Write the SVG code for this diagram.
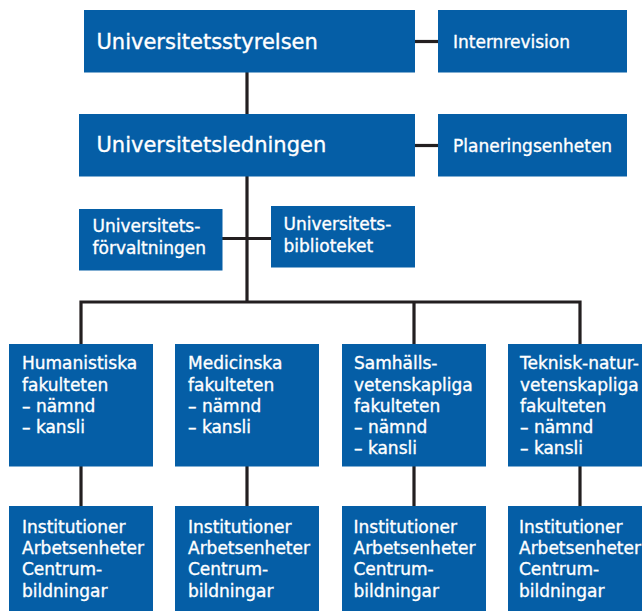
<svg xmlns="http://www.w3.org/2000/svg" width="642" height="611" viewBox="0 0 642 611">
<style>
.box{fill:#055ea6}
.t{font-family:"DejaVu Sans","Liberation Sans",sans-serif;font-size:17px;fill:#ffffff;stroke:#ffffff;stroke-width:0.35}
.big{font-size:21px}
.ln{stroke:#231f20;stroke-width:3.2;fill:none}
</style>
<rect width="642" height="611" fill="#ffffff"/>
<g id="connectors">
<line class="ln" x1="247" y1="72" x2="247" y2="114"/>
<line class="ln" x1="415" y1="41.5" x2="438" y2="41.5"/>
<line class="ln" x1="415" y1="145.5" x2="438" y2="145.5"/>
<line class="ln" x1="247" y1="176" x2="247" y2="302"/>
<line class="ln" x1="222" y1="238.5" x2="271" y2="238.5"/>
<polyline class="ln" points="81,344 81,302 580,302 580,344"/>
<line class="ln" x1="414" y1="302" x2="414" y2="344"/>
<line class="ln" x1="81" y1="466" x2="81" y2="506"/>
<line class="ln" x1="247" y1="466" x2="247" y2="506"/>
<line class="ln" x1="414" y1="466" x2="414" y2="506"/>
<line class="ln" x1="580" y1="466" x2="580" y2="506"/>
</g>
<g id="styrelsen"><rect class="box" x="84" y="10" width="331" height="62.5"/><text class="t big" x="96.5" y="48.5">Universitetsstyrelsen</text></g>
<g id="internrevision"><rect class="box" x="438" y="10" width="189" height="62.5"/><text class="t" x="453" y="48.3">Internrevision</text></g>
<g id="ledningen"><rect class="box" x="79" y="114" width="336" height="62.5"/><text class="t big" x="96.5" y="151.7">Universitetsledningen</text></g>
<g id="planeringsenheten"><rect class="box" x="438" y="114" width="189" height="62.5"/><text class="t" x="453" y="151.7">Planeringsenheten</text></g>
<g id="forvaltningen"><rect class="box" x="79" y="209" width="143.5" height="61.5"/><text class="t" x="92.5" y="231.7">Universitets-</text><text class="t" x="92.5" y="254.3">förvaltningen</text></g>
<g id="biblioteket"><rect class="box" x="271" y="206" width="144" height="61.5"/><text class="t" x="283.5" y="230">Universitets-</text><text class="t" x="283.5" y="251.7">biblioteket</text></g>
<g id="hum"><rect class="box" x="9" y="344" width="144" height="122.5"/><text class="t" x="22" y="369.3">Humanistiska</text><text class="t" x="22" y="390.5">fakulteten</text><text class="t" x="22" y="411.7">– nämnd</text><text class="t" x="22" y="432.7">– kansli</text></g>
<g id="med"><rect class="box" x="175" y="344" width="144" height="122.5"/><text class="t" x="188" y="369.3">Medicinska</text><text class="t" x="188" y="390.5">fakulteten</text><text class="t" x="188" y="411.7">– nämnd</text><text class="t" x="188" y="432.7">– kansli</text></g>
<g id="sam"><rect class="box" x="342" y="344" width="144" height="122.5"/><text class="t" x="354" y="369.3">Samhälls-</text><text class="t" x="354" y="390.5">vetenskapliga</text><text class="t" x="354" y="411.7">fakulteten</text><text class="t" x="354" y="432.7">– nämnd</text><text class="t" x="354" y="453.7">– kansli</text></g>
<g id="tek"><rect class="box" x="508" y="344" width="144" height="122.5"/><text class="t" x="520" y="369.3">Teknisk-natur-</text><text class="t" x="520" y="390.5">vetenskapliga</text><text class="t" x="520" y="411.7">fakulteten</text><text class="t" x="520" y="432.7">– nämnd</text><text class="t" x="520" y="453.7">– kansli</text></g>
<g id="inst-hum"><rect class="box" x="9" y="506" width="144" height="110"/><text class="t" x="22" y="533">Institutioner</text><text class="t" x="22" y="554">Arbetsenheter</text><text class="t" x="22" y="575">Centrum-</text><text class="t" x="22" y="596.5">bildningar</text></g>
<g id="inst-med"><rect class="box" x="175" y="506" width="144" height="110"/><text class="t" x="188" y="533">Institutioner</text><text class="t" x="188" y="554">Arbetsenheter</text><text class="t" x="188" y="575">Centrum-</text><text class="t" x="188" y="596.5">bildningar</text></g>
<g id="inst-sam"><rect class="box" x="342" y="506" width="144" height="110"/><text class="t" x="353.5" y="533">Institutioner</text><text class="t" x="353.5" y="554">Arbetsenheter</text><text class="t" x="353.5" y="575">Centrum-</text><text class="t" x="353.5" y="596.5">bildningar</text></g>
<g id="inst-tek"><rect class="box" x="508" y="506" width="144" height="110"/><text class="t" x="519" y="533">Institutioner</text><text class="t" x="519" y="554">Arbetsenheter</text><text class="t" x="519" y="575">Centrum-</text><text class="t" x="519" y="596.5">bildningar</text></g>
</svg>
